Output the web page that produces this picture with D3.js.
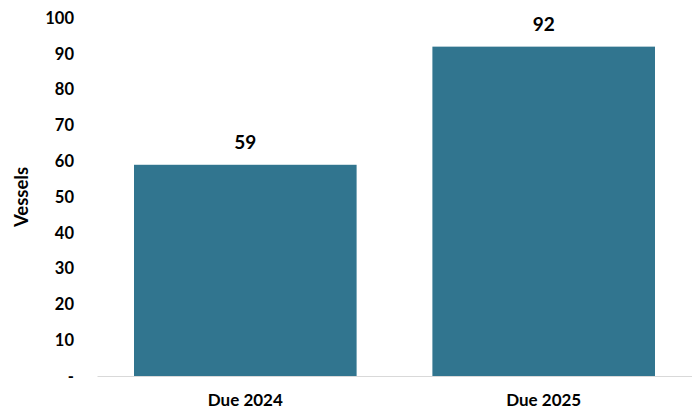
<!DOCTYPE html>
<html><head><meta charset="utf-8">
<script src="https://cdn.jsdelivr.net/npm/d3@7"></script>
<style>body{margin:0;background:#fff}svg{display:block}text{font-family:Lato,"Open Sans",sans-serif;font-weight:700;fill:#000}</style>
</head><body><svg id="c" width="692" height="410"></svg>
<script>
const categories = ["Due 2024", "Due 2025"];
const values = [59, 92];
const yTicks = [0, 10, 20, 30, 40, 50, 60, 70, 80, 90, 100];
const yLabel = "Vessels";

const svg = d3.select("#c");
const m = {left: 97, right: 692, top: 18, bottom: 376};
const x = d3.scaleBand().domain(categories).range([m.left, m.right]).paddingInner(0.254).paddingOuter(0.124);
const y = d3.scaleLinear().domain([0, 100]).range([m.bottom, m.top]);

svg.selectAll("rect.bar").data(values).join("rect").attr("class", "bar")
  .attr("x", (d, i) => x(categories[i])).attr("width", x.bandwidth())
  .attr("y", d => y(d)).attr("height", d => y(0) - y(d)).attr("fill", "#31758f");

const ya = svg.append("g").attr("transform", `translate(${m.left},0)`)
  .call(d3.axisLeft(y).tickValues(yTicks).tickSize(0).tickPadding(23).tickFormat(d => d === 0 ? "-" : d));
ya.select(".domain").remove();
ya.selectAll("text").style("font-size", "16.5px").style("font-family", "Lato").style("font-weight", 700);

const xa = svg.append("g").attr("transform", `translate(0,${m.bottom})`)
  .call(d3.axisBottom(x).tickSize(0).tickPadding(18));
xa.select(".domain").attr("stroke", "#d9d9d9").attr("stroke-width", 1.2);
xa.selectAll("text").style("font-size", "17px").style("font-family", "Lato").style("font-weight", 700);

svg.selectAll("text.val").data(values).join("text").attr("class", "val")
  .attr("x", (d, i) => x(categories[i]) + x.bandwidth() / 2)
  .attr("y", d => y(d) - 16).attr("text-anchor", "middle")
  .style("font-size", "19px").text(d => d);

svg.append("text").attr("transform", `translate(28,${(m.top + m.bottom) / 2}) rotate(-90)`)
  .attr("text-anchor", "middle").style("font-size", "18.5px").text(yLabel);
</script></body></html>
